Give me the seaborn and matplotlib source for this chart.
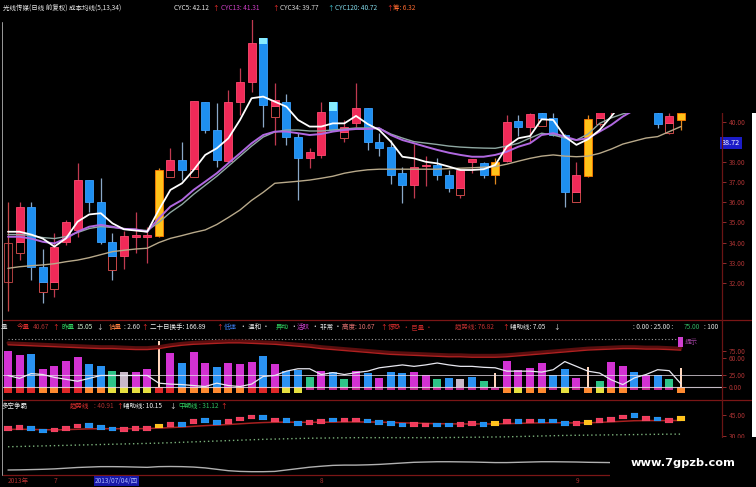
import matplotlib
matplotlib.use('agg')
import matplotlib.pyplot as plt
from matplotlib.patches import Rectangle
from matplotlib.lines import Line2D
import matplotlib.transforms as mtransforms
import numpy as np
import pandas as pd
import seaborn as sns

sns.set_style('dark')
plt.rcParams['font.family'] = ['Noto Sans CJK SC', 'DejaVu Sans']
plt.rcParams['axes.unicode_minus'] = False

# ---- price panel (daily candles) ----
opens = [32.05, 34.04, 35.79, 32.8, 32.05, 34.04, 34.63, 37.11, 36.0, 34.04,
         33.33, 34.3, 34.3, 34.34, 37.61, 38.11, 37.64, 41.01, 39.6, 38.06,
         41.01, 42.0, 44.16, 40.8, 41.01, 39.27, 38.22, 38.36, 41.01, 39.5,
         39.93, 40.68, 39.02, 38.77, 37.45, 36.87, 37.8, 37.86, 37.36, 36.7,
         38.0, 37.95, 37.36, 38.07, 40.07, 39.74, 40.45, 40.18, 39.35, 36.53,
         37.31, 40.2, 40.5, 41.0, 42.5, 41.5, 40.45, 39.93, 40.1]
closes = [33.97, 35.79, 32.8, 32.05, 33.8, 35.04, 37.11, 36.0, 34.04, 33.33,
          34.34, 34.36, 34.36, 37.61, 38.11, 37.61, 41.06, 39.6, 38.11, 41.01,
          42.0, 43.92, 40.85, 41.1, 39.27, 38.22, 38.52, 40.51, 39.6, 39.75,
          40.68, 39.02, 38.69, 37.36, 36.87, 37.78, 37.88, 37.36, 36.7, 37.61,
          38.15, 37.36, 38.03, 40.02, 39.77, 40.4, 40.2, 39.35, 36.53, 37.36,
          40.13, 41.0, 41.5, 42.0, 41.5, 42.5, 39.88, 40.3, 40.45]
highs = [36.0, 36.03, 36.03, 33.7, 34.46, 35.1, 37.95, 37.11, 37.2, 34.46,
         34.6, 35.54, 34.8, 37.7, 38.69, 39.02, 41.06, 41.01, 40.93, 41.59,
         42.67, 45.5, 44.16, 41.92, 41.4, 39.44, 38.69, 41.01, 41.01, 40.1,
         41.92, 40.68, 39.44, 39.1, 37.78, 38.9, 38.3, 38.2, 37.6, 37.61,
         38.15, 38.0, 38.2, 40.35, 40.35, 40.45, 40.5, 40.45, 39.4, 38.03,
         40.35, 41.5, 42.0, 42.5, 42.8, 42.9, 40.6, 40.45, 40.6]
lows = [30.6, 33.13, 32.14, 30.98, 31.3, 33.9, 34.29, 35.5, 33.95, 32.14,
        32.7, 33.47, 33.0, 34.3, 37.28, 37.11, 37.28, 39.45, 37.78, 38.03,
        40.35, 41.5, 39.77, 38.86, 38.86, 36.12, 37.7, 38.2, 39.6, 39.0,
        39.77, 38.6, 38.3, 36.9, 35.96, 36.2, 36.8, 37.1, 36.5, 36.2,
        37.45, 37.2, 36.9, 38.0, 39.3, 39.02, 39.8, 39.3, 35.79, 36.03,
        37.25, 39.8, 40.3, 40.8, 41.2, 41.3, 39.7, 39.4, 39.6]
# r = up, b = down, o = highlighted (orange), h = hollow
kinds = ['h', 'r', 'b', 'b', 'r', 'r', 'r', 'b', 'b', 'b',
         'r', 'r', 'r', 'o', 'r', 'b', 'r', 'b', 'b', 'r',
         'r', 'r', 'b', 'r', 'b', 'b', 'r', 'r', 'b', 'r',
         'r', 'b', 'b', 'b', 'b', 'r', 'r', 'b', 'b', 'r',
         'r', 'b', 'o', 'r', 'b', 'r', 'b', 'b', 'b', 'r',
         'o', 'r', 'r', 'r', 'b', 'r', 'b', 'r', 'o']

box_idx = [1, 3, 4, 9, 14, 16, 23, 29, 39, 46, 49, 51, 57]
box_lo = [33.5, 31.55, 31.7, 32.65, 37.28, 37.28, 40.25, 39.19, 36.35, 39.8, 36.0, 39.9, 39.44]
box_hi = [34.04, 32.05, 32.05, 33.33, 37.61, 37.64, 40.8, 39.5, 36.7, 40.2, 36.53, 40.2, 39.93]
cap_idx = [22, 28]
cap_lo = [43.9, 40.55]

cyc5 = [34.54, 34.54, 34.4, 34.2, 33.8, 34.21, 35.04, 35.4, 35.46, 34.96,
        34.66, 34.6, 34.54, 35.62, 36.62, 36.95, 37.61, 38.36, 38.69, 39.19,
        40.1, 41.18, 41.26, 41.01, 40.76, 40.1, 39.77, 39.77, 39.93, 39.93,
        40.3, 39.9, 39.6, 39.02, 38.27, 38.19, 38.02, 37.94, 37.78, 37.61,
        37.61, 37.65, 37.86, 38.77, 39.19, 39.3, 40.13, 40.1, 39.27, 38.86,
        39.14, 39.6, 40.27, 41.0, 41.5, 41.8, 42.0, 42.1, 42.12]
cyc13 = [34.29, 34.29, 34.2, 34.04, 33.96, 34.21, 34.54, 34.79, 34.88, 34.79,
         34.68, 34.66, 34.54, 35.21, 35.79, 36.12, 36.62, 37.03, 37.45, 37.95,
         38.44, 38.94, 39.35, 39.52, 39.52, 39.44, 39.35, 39.4, 39.52, 39.6,
         39.65, 39.65, 39.69, 39.35, 39.1, 38.94, 38.77, 38.61, 38.47, 38.36,
         38.27, 38.27, 38.36, 38.52, 38.77, 38.94, 39.35, 39.44, 39.27, 39.1,
         39.19, 39.52, 39.85, 40.27, 40.6, 40.9, 41.1, 41.25, 41.31]
cyc120 = [34.4, 34.4, 34.35, 34.25, 34.2, 34.3, 34.5, 34.7, 34.8, 34.75,
          34.7, 34.65, 34.6, 35.0, 35.5, 35.9, 36.4, 36.85, 37.3, 37.8,
          38.3, 38.8, 39.25, 39.5, 39.6, 39.6, 39.55, 39.55, 39.6, 39.65,
          39.7, 39.7, 39.69, 39.4, 39.2, 39.02, 38.95, 38.88, 38.8, 38.75,
          38.72, 38.7, 38.69, 38.8, 38.94, 39.2, 39.44, 39.35, 39.2, 39.1,
          39.4, 39.93, 40.2, 40.4, 40.55, 40.62, 40.67, 40.7, 40.72]
cyc34 = [32.72, 32.8, 32.85, 32.89, 32.95, 33.05, 33.13, 33.25, 33.4, 33.55,
         33.62, 33.68, 33.72, 34.0, 34.21, 34.35, 34.5, 34.63, 34.9, 35.25,
         35.62, 36.1, 36.5, 36.95, 37.0, 37.05, 37.11, 37.2, 37.3, 37.45,
         37.55, 37.62, 37.65, 37.65, 37.65, 37.65, 37.65, 37.65, 37.68, 37.7,
         37.72, 37.75, 37.78, 37.9, 38.05, 38.19, 38.3, 38.36, 38.3, 38.27,
         38.3, 38.44, 38.65, 38.9, 39.05, 39.2, 39.27, 39.52, 39.77]

price_ticks = [32, 33, 34, 35, 36, 37, 38, 40]

# ---- volume / turnover panel ----
vol = [76, 66, 69, 38, 44, 55, 62, 48, 43, 34, 31, 31, 37, 96, 71, 51, 72, 51, 42, 50,
       48, 53, 64, 48, 33, 36, 20, 34, 31, 17, 33, 29, 19, 31, 29, 31, 26, 17, 19, 17,
       20, 13, 29, 55, 36, 40, 49, 26, 37, 19, 41, 12, 53, 43, 31, 26, 25, 17, 40]
vol_kind = ['m', 'm', 'b', 'm', 'm', 'm', 'm', 'b', 'b', 'g', 'gr', 'm', 'm', 'w', 'm',
            'b', 'm', 'm', 'b', 'm', 'm', 'm', 'b', 'm', 'b', 'b', 'g', 'm', 'b', 'g',
            'm', 'b', 'm', 'b', 'b', 'm', 'm', 'g', 'b', 'gr', 'b', 'g', 'w', 'm', 'm',
            'm', 'm', 'b', 'b', 'm', 'w', 'g', 'm', 'm', 'b', 'm', 'b', 'g', 'w']
cap_kind = ['r', 'r', 'r', 'o', 'o', 'r', 'r', 'o', 'o', 'y', 'y', 'y', 'y', 'r', 'r',
            'o', 'o', 'o', 'o', 'o', 'o', 'r', 'r', 'r', 'y', 'y', 'p', 'p', 'p', 'p',
            'p', 'p', 'p', 'p', 'p', 'p', 'p', 'p', 'p', 'p', 'p', 'p', 'p', 'o', 'y',
            'o', 'o', 'p', 'y', 'p', 'o', 'y', 'o', 'o', 'p', 'p', 'p', 'p', 'o']
vol_trend = [88, 87, 86, 85, 84, 83, 82, 81, 80, 80, 79, 78, 78, 80, 84, 87, 89, 90, 91, 92,
             92, 91, 90, 89, 87, 85, 83, 80, 78, 76, 74, 72, 70, 68, 67, 66, 65, 64, 63, 63,
             62, 62, 62, 63, 65, 67, 69, 71, 73, 75, 77, 78, 79, 80, 80, 79, 79, 78, 76.82]
vol_aux = [24, 18, 28, 26, 20, 16, 12, 18, 24, 24, 24, 24, 24, 8, 6, 5, 3, 1, 8, 3,
           1, 6, 22, 24, 33, 38, 38, 26, 30, 26, 30, 33, 40, 43, 46, 43, 46, 50, 46, 43,
           43, 41, 40, 33, 33, 33, 31, 36, 53, 43, 33, 29, 15, 5, 19, 26, 36, 34, 7.05]
vol_ticks = [0, 25, 60, 75]

# ---- 多空争霸 panel ----
dk_mark = [35.3, 35.7, 35.3, 33.4, 34.1, 35.3, 36.9, 37.2, 35.7, 34.8, 34.6, 35.3, 35.3,
           36.9, 38.1, 38.1, 40.0, 40.7, 39.5, 40.0, 41.9, 43.4, 42.9, 41.2, 40.7, 38.8,
           39.5, 40.0, 41.2, 41.2, 41.2, 40.5, 39.5, 38.8, 37.6, 38.1, 37.6, 37.6, 37.6,
           38.1, 38.6, 38.1, 38.6, 40.0, 40.0, 40.5, 40.5, 40.5, 38.6, 38.6, 39.5, 40.7,
           41.7, 43.4, 44.3, 42.4, 41.9, 41.0, 42.4]
dk_trend = [34.5, 34.6, 34.5, 34.3, 34.2, 34.3, 34.6, 34.9, 35.0, 35.0, 35.0, 35.0, 35.1,
            35.4, 35.8, 36.2, 36.7, 37.2, 37.6, 38.0, 38.5, 39.0, 39.4, 39.6, 39.7, 39.6,
            39.6, 39.6, 39.7, 39.8, 39.8, 39.8, 39.7, 39.5, 39.2, 39.0, 38.8, 38.6, 38.5,
            38.4, 38.4, 38.4, 38.4, 38.6, 38.8, 39.0, 39.2, 39.3, 39.2, 39.1, 39.2, 39.5,
            39.9, 40.3, 40.7, 40.8, 40.8, 40.8, 40.91]
dk_mid = [22.1, 22.3, 22.5, 22.7, 22.9, 23.1, 23.3, 23.5, 23.7, 23.9, 24.1, 24.3, 24.5,
          24.7, 25.0, 25.3, 25.6, 25.9, 26.2, 26.5, 26.8, 27.1, 27.4, 27.6, 27.8, 28.0,
          28.2, 28.3, 28.4, 28.5, 28.6, 28.6, 28.6, 28.6, 28.6, 28.6, 28.6, 28.6, 28.7,
          28.8, 28.9, 29.0, 29.1, 29.2, 29.4, 29.6, 29.8, 30.0, 30.2, 30.3, 30.4, 30.5,
          30.6, 30.7, 30.8, 30.9, 31.0, 31.1, 31.12]
dk_aux = [5.5, 5.6, 5.8, 6.0, 6.3, 6.8, 7.3, 7.6, 7.9, 7.9, 7.8, 7.6, 7.4, 7.9, 8.0, 7.9,
          7.6, 7.0, 6.0, 5.0, 4.5, 4.3, 4.3, 4.5, 5.5, 6.5, 7.5, 8.2, 8.8, 9.0, 9.0, 9.2,
          9.5, 10.0, 10.5, 11.0, 11.2, 11.4, 11.4, 11.3, 11.2, 11.0, 10.8, 10.8, 11.0,
          11.2, 11.4, 11.4, 11.3, 11.2, 11.0, 10.9, 10.8, 10.7, 10.6, 10.5, 10.4, 10.3, 10.15]
dk_ticks = [30, 45]

idx = np.arange(len(opens))

body_col = {'r': '#f02a58', 'b': '#1e8ff0', 'o': '#ffc21a', 'h': 'none'}
edge_col = {'r': '#ff4a70', 'b': '#3aa0ff', 'o': '#ff7a00', 'h': '#c84848'}
wick_col = {'r': '#c03a50', 'b': '#8aa8c8', 'o': '#e08a20', 'h': '#c84848'}
vbar_col = {'m': '#d232d2', 'b': '#2a92f2', 'g': '#2ec488', 'gr': '#c8b8c8', 'w': '#ffd6bc'}
vcap_col = {'r': '#e02828', 'o': '#ff8a30', 'y': '#e6e040', 'p': '#c02890'}
vcap_depth = {'r': -13, 'o': -13, 'y': -13, 'p': -7}
AXC = '#a83232'

W, H = 756, 487
def fx(px):
    return px / W
def fy(py):
    return 1 - py / H

fig = plt.figure(figsize=(7.56, 4.87), dpi=100, facecolor='black')


def panel(top, bottom, ylim, ticks):
    ax = fig.add_axes([fx(3), fy(bottom), fx(722) - fx(3), (bottom - top) / H])
    ax.set_facecolor('black')
    ax.set_xlim(-0.43, 61.55)
    ax.set_ylim(*ylim)
    ax.grid(False)
    for s in ax.spines.values():
        s.set_visible(False)
    ax.set_xticks([])
    ax.yaxis.tick_right()
    ax.set_yticks(ticks)
    ax.set_yticklabels(['%.2f' % t for t in ticks])
    ax.tick_params(axis='y', colors=AXC, labelcolor=AXC, length=3, width=0.6,
                   labelsize=4.8, pad=2)
    ax.set_xlabel('')
    ax.set_ylabel('')
    return ax


# ---------- price panel ----------
ax_p = panel(20, 318, (30.25, 45.07), price_ticks)

for i in idx:
    k = kinds[i]
    ax_p.vlines(i, lows[i], highs[i], color=wick_col[k], lw=0.9, zorder=2)
for bi, lo, hi in zip(box_idx, box_lo, box_hi):
    ax_p.bar(bi, hi - lo, bottom=lo, width=0.7, facecolor='black',
             edgecolor='#c84848', lw=0.7, zorder=2)
for i in idx:
    k = kinds[i]
    lo, hi = min(opens[i], closes[i]), max(opens[i], closes[i])
    h = max(hi - lo, 0.06)
    ax_p.bar(i, h, bottom=lo, width=0.7, color=body_col[k],
             edgecolor=edge_col[k], lw=0.6, zorder=3)
for ci, lo in zip(cap_idx, cap_lo):
    ax_p.bar(ci, opens[ci] - lo, bottom=lo, width=0.7, color='#86ecff', lw=0, zorder=4)

sns.lineplot(x=idx, y=cyc34, ax=ax_p, color='#b8a98a', lw=1.0, legend=False, zorder=5)
sns.lineplot(x=idx, y=cyc120, ax=ax_p, color='#8fa8a2', lw=1.0, legend=False, zorder=5)
sns.lineplot(x=idx, y=cyc13, ax=ax_p, color='#b068e0', lw=1.4, legend=False, zorder=5)
sns.lineplot(x=idx, y=cyc5, ax=ax_p, color='white', lw=1.3, legend=False, zorder=6)
ax_p.set_xlabel('')
ax_p.set_ylabel('')

trans = mtransforms.blended_transform_factory(ax_p.transAxes, ax_p.transData)
ax_p.text(1.0, 38.96, '38.72', transform=trans, ha='left', va='center', fontsize=5.2,
          color='white', bbox=dict(facecolor='#1c1cc8', edgecolor='none', pad=1.2), zorder=8)

# ---------- volume panel ----------
ax_v = panel(320, 400, (-27.1, 139.6), vol_ticks)
for i in idx:
    k = vol_kind[i]
    w = 0.22 if k == 'w' else 0.7
    ax_v.bar(i, vol[i], width=w, color=vbar_col[k], lw=0, zorder=2)
    c = cap_kind[i]
    ax_v.bar(i, vcap_depth[c], width=0.7, color=vcap_col[c], lw=0, zorder=2)
ax_v.axhline(0, color='#e8dce8', lw=0.8, alpha=0.85, zorder=3)
ax_v.axhline(25, color='#e8dce8', lw=0.7, alpha=0.75, zorder=3)
ax_v.hlines(100, 0, 58, color='#a0a0a0', lw=0.8, linestyles=(0, (1, 2)), zorder=3)
sns.lineplot(x=idx, y=[t + 4 for t in vol_trend], ax=ax_v, color='#5a0e0e', lw=2.2,
             legend=False, zorder=3)
sns.lineplot(x=idx, y=vol_trend, ax=ax_v, color='#b02020', lw=1.0, legend=False, zorder=4)
sns.lineplot(x=idx, y=vol_aux, ax=ax_v, color='#e8e8f0', lw=0.9, legend=False, zorder=4)
ax_v.set_xlabel('')
ax_v.set_ylabel('')

# ---------- 多空争霸 panel ----------
ax_b = panel(400, 475, (1.93, 55.5), dk_ticks)
sns.lineplot(x=idx, y=dk_trend, ax=ax_b, color='#a82020', lw=1.1, legend=False, zorder=2)
sns.lineplot(x=idx, y=dk_mid, ax=ax_b, color='#7ab07a', lw=1.0, legend=False, zorder=2)
ax_b.lines[-1].set_linestyle((0, (1, 2)))
sns.lineplot(x=idx, y=dk_aux, ax=ax_b, color='#b0b0b0', lw=1.0, legend=False, zorder=2)
for i in idx:
    k = kinds[i]
    col = '#f03a5a' if k in ('r', 'h') else body_col[k]
    ax_b.bar(i, 3.3, bottom=dk_mark[i] - 1.65, width=0.66, color=col,
             edgecolor='#ffffff30', lw=0.3, zorder=3)
ax_b.set_xlabel('')
ax_b.set_ylabel('')

# ---------- frame lines ----------
for yy in (320, 400, 475):
    fig.add_artist(Line2D([fx(3), fx(752)], [fy(yy), fy(yy)], color='#7a1616', lw=0.9))
fig.add_artist(Line2D([fx(722), fx(722)], [fy(20), fy(487)], color='#6a1414', lw=0.9))
fig.add_artist(Line2D([fx(1.5), fx(1.5)], [fy(22), fy(475)], color='#9a9a9a', lw=0.7))

# ---------- text ----------
FS = 4.7
def t(px, py, s, c, **kw):
    fig.text(fx(px), fy(py), s, color=c, fontsize=kw.pop('fs', FS), ha='left', va='center', **kw)

t(3, 8, '光线传媒(日线 前复权) 成本均线(5,13,34)', '#e8e8e8')
t(174, 8, 'CYC5: 42.12', '#e8e8e8'); t(212, 8, '↑', '#ff3030')
t(221, 8, 'CYC13: 41.31', '#d040c8'); t(272, 8, '↑', '#ff3030')
t(280, 8, 'CYC34: 39.77', '#d8d8d8'); t(327, 8, '↑', '#40d0e0')
t(335, 8, 'CYC120: 40.72', '#80d8e8'); t(386, 8, '↑', '#ff3030')
t(393, 8, '筹: 6.32', '#ff6a30')

t(1, 327, '量', '#d0d0d0')
t(17, 327, '今量', '#e03030'); t(33, 327, '40.67', '#a83030'); t(52, 327, '↑', '#ff3030')
t(61, 327, '昨量', '#30d060'); t(76, 327, '15.05', '#d0f0d0'); t(96, 327, '↓', '#e0e0e0')
t(109, 327, '估量', '#ff8040'); t(124, 327, ': 2.60', '#e0e0e0'); t(141, 327, '↑', '#ff3030')
t(150, 327, '二十日换手: 166.89', '#f0f0f0'); t(216, 327, '↑', '#ff3030')
t(224, 327, '低迷', '#3a7ae8'); t(240, 327, '· 温和 ·', '#e8e8e8')
t(276, 327, '异动', '#30d060'); t(290, 327, '·', '#e8e8e8'); t(297, 327, '活跃', '#d040d0')
t(312, 327, '· 非常 ·', '#e8e8e8'); t(342, 327, '高度: 10.67', '#e07070'); t(380, 327, '↑', '#ff3030')
t(388, 327, '惊恐', '#e03030'); t(403, 327, '· 巨量 ·', '#c02828')
t(455, 327, '趋势线: 76.82', '#c03030'); t(502, 327, '↑', '#ff3030')
t(510, 327, '辅助线: 7.05', '#e8e8e8'); t(553, 327, '↓', '#e8e8e8')
t(633, 327, ': 0.00 : 25.00 :', '#e0e0e0'); t(684, 327, '75.00', '#30b060'); t(704, 327, ': 100', '#e0e0e0')
fig.add_artist(Rectangle((fx(678), fy(347)), fx(5), 10 / H, color='#d040d0', lw=0))
t(685, 342, '提示', '#a040a0')

t(2, 406, '多空争霸', '#e8e8e8')
t(70, 406, '趋势线', '#e03030'); t(94, 406, ': 40.91', '#a83030'); t(116, 406, '↑', '#ff3030')
t(123, 406, '辅助线: 10.15', '#f0f0f0'); t(169, 406, '↓', '#f0f0f0')
t(178, 406, '中期线', '#30d060'); t(199, 406, ': 31.12', '#30c060'); t(220, 406, '↑', '#ff3030')

t(8, 481, '2013年', '#b03030')
t(54, 481, '7', '#b03030')
t(95, 481, '2013/07/04/四', '#aab8ff', bbox=dict(facecolor='#1818a8', edgecolor='none', pad=0.8))
t(320, 481, '8', '#b03030')
t(576, 481, '9', '#b03030')

# top-right blank patch, right-edge strip and watermark box
fig.add_artist(Rectangle((fx(425), fy(113)), 1 - fx(425), 113 / H, color='black', lw=0, zorder=10))
fig.add_artist(Rectangle((fx(752), fy(437)), 1 - fx(752), (437 - 113) / H, color='white', lw=0, zorder=11))
fig.add_artist(Rectangle((fx(610), 0), 1 - fx(610), fy(438), color='black', lw=0, zorder=12))
fig.text(fx(683), fy(463), 'www.7gpzb.com', color='white', fontsize=8.2, fontweight='bold',
         family='DejaVu Sans', ha='center', va='center', zorder=13)

fig.savefig('out.png', dpi=100, facecolor='black')
